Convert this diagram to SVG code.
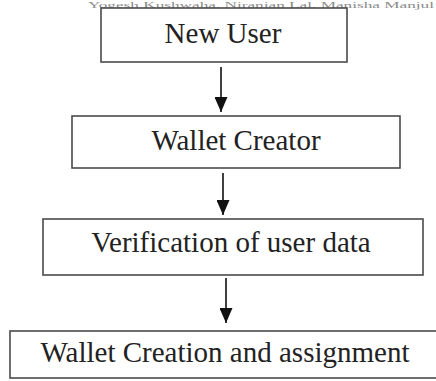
<svg xmlns="http://www.w3.org/2000/svg" width="436" height="381" viewBox="0 0 436 381">
<style>
.box{fill:#fff;stroke:#4a4a4a;stroke-width:1.6}
.lbl{font-size:29px;fill:#222;text-anchor:middle}
.hdr{font-size:8.5px;fill:#8a8a8a}
.con{stroke:#111;stroke-width:1.6;fill:none}
</style>
<defs>
<marker id="ah" markerWidth="15" markerHeight="13" refX="15" refY="6.5" orient="auto" markerUnits="userSpaceOnUse" viewBox="0 0 15 13">
<path d="M0,0 L15,6.5 L0,13 Z" fill="#111"/>
</marker>
</defs>
<rect width="436" height="381" fill="#fff"/>
<text class="hdr" font-family="'Liberation Serif','DejaVu Serif',serif" x="88" y="7.5" textLength="346" lengthAdjust="spacingAndGlyphs">Yogesh Kushwaha, Niranjan Lal, Manisha Manjul</text>
<g id="connectors">
<line class="con" x1="221" y1="67" x2="221" y2="112" marker-end="url(#ah)"/>
<line class="con" x1="223" y1="173" x2="223" y2="215" marker-end="url(#ah)"/>
<line class="con" x1="226" y1="278" x2="226" y2="323" marker-end="url(#ah)"/>
</g>
<g id="node-new-user">
<rect class="box" x="101" y="8" width="246" height="54"/>
<text class="lbl" font-family="'Liberation Serif','DejaVu Serif',serif" x="223" y="43">New User</text>
</g>
<g id="node-wallet-creator">
<rect class="box" x="72" y="116" width="328" height="52"/>
<text class="lbl" font-family="'Liberation Serif','DejaVu Serif',serif" x="236" y="150">Wallet Creator</text>
</g>
<g id="node-verification">
<rect class="box" x="43" y="219" width="380" height="56"/>
<text class="lbl" font-family="'Liberation Serif','DejaVu Serif',serif" x="231" y="252">Verification of user data</text>
</g>
<g id="node-wallet-creation">
<rect class="box" x="10" y="331" width="432" height="47"/>
<text class="lbl" font-family="'Liberation Serif','DejaVu Serif',serif" x="225" y="362">Wallet Creation and assignment</text>
</g>
</svg>
